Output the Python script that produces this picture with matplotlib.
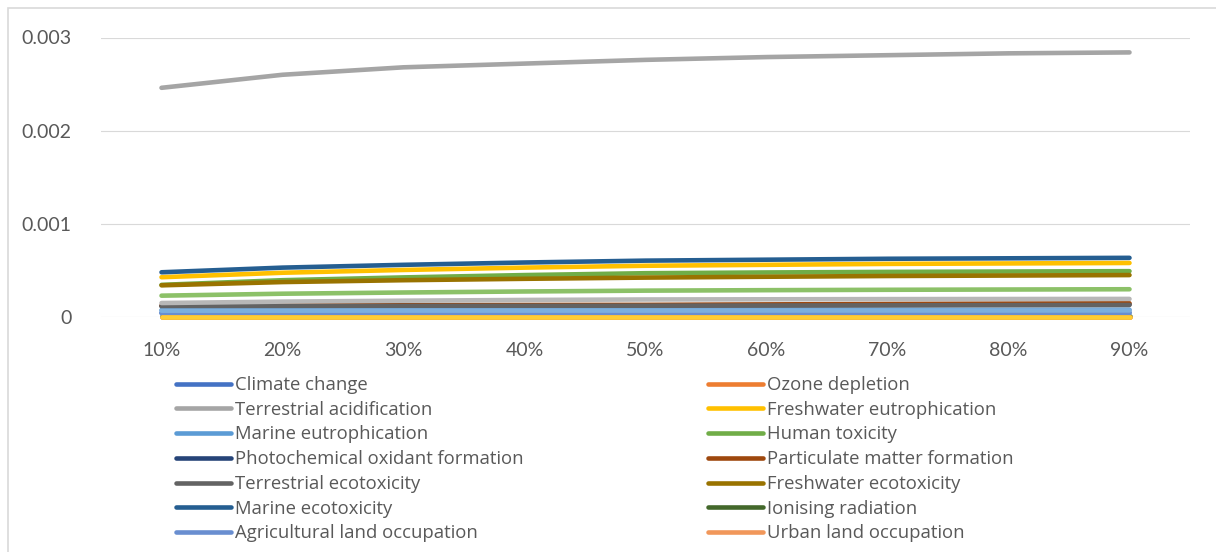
import matplotlib
matplotlib.use("Agg")
import matplotlib.pyplot as plt
from matplotlib.lines import Line2D
from matplotlib.patches import Rectangle

plt.rcParams.update({"font.family": ["Lato", "DejaVu Sans"]})

W, H = 1216, 552
TXT = "#595959"
GRID = "#D9D9D9"

shares = ["10%", "20%", "30%", "40%", "50%", "60%", "70%", "80%", "90%"]

names = [
    "Climate change", "Ozone depletion", "Terrestrial acidification",
    "Freshwater eutrophication", "Marine eutrophication", "Human toxicity",
    "Photochemical oxidant formation", "Particulate matter formation",
    "Terrestrial ecotoxicity", "Freshwater ecotoxicity", "Marine ecotoxicity",
    "Ionising radiation", "Agricultural land occupation", "Urban land occupation",
    "Natural land transformation", "Water depletion", "Metal depletion",
    "Fossil depletion",
]
colors = [
    "#4472C4", "#ED7D31", "#A5A5A5", "#FFC000", "#5B9BD5", "#70AD47",
    "#264478", "#9E480E", "#636363", "#997300", "#255E91", "#43682B",
    "#698ED0", "#F1975A", "#B7B7B7", "#FFCD33", "#7CAFDD", "#8CC168",
]

# values (x 1e-4)
climate = [0.45, 0.45, 0.46, 0.46, 0.46, 0.47, 0.47, 0.47, 0.48]
ozone = [0.0] * 9
terr_acid = [24.6, 26.0, 26.8, 27.2, 27.6, 27.9, 28.1, 28.3, 28.4]
fw_eutro = [4.27, 4.75, 5.05, 5.30, 5.50, 5.60, 5.70, 5.75, 5.80]
mar_eutro = [0.75, 0.75, 0.76, 0.76, 0.76, 0.77, 0.77, 0.77, 0.78]
human_tox = [3.45, 3.95, 4.25, 4.50, 4.70, 4.78, 4.84, 4.88, 4.92]
photochem = [1.18, 1.20, 1.22, 1.24, 1.25, 1.27, 1.30, 1.33, 1.36]
particulate = [1.22, 1.26, 1.28, 1.29, 1.30, 1.35, 1.40, 1.44, 1.47]
terr_ecotox = [1.15, 1.17, 1.19, 1.20, 1.21, 1.23, 1.25, 1.27, 1.29]
fw_ecotox = [3.40, 3.75, 3.95, 4.10, 4.23, 4.32, 4.40, 4.45, 4.50]
mar_ecotox = [4.80, 5.30, 5.60, 5.85, 6.05, 6.15, 6.25, 6.30, 6.35]
ionising = [0.10] * 9
agri_land = [0.40, 0.40, 0.41, 0.41, 0.41, 0.42, 0.42, 0.42, 0.43]
urban_land = [0.03] * 9
natural_land = [1.50, 1.65, 1.75, 1.83, 1.88, 1.90, 1.92, 1.93, 1.94]
water = [0.0] * 9
metal = [0.68, 0.68, 0.69, 0.69, 0.69, 0.70, 0.70, 0.70, 0.71]
fossil = [2.29, 2.50, 2.63, 2.74, 2.83, 2.88, 2.92, 2.95, 2.98]

series = [climate, ozone, terr_acid, fw_eutro, mar_eutro, human_tox, photochem,
          particulate, terr_ecotox, fw_ecotox, mar_ecotox, ionising, agri_land,
          urban_land, natural_land, water, metal, fossil]

fig = plt.figure(figsize=(W / 100, H / 100), dpi=100)
ax = fig.add_axes([101 / W, 1 - 317 / H, 1089 / W, (317 - 37.5) / H])

x = list(range(len(shares)))
for name, col, vals in zip(names, colors, series):
    ax.plot(x, [v * 1e-4 for v in vals], color=col, lw=3.3,
            solid_capstyle="round", solid_joinstyle="round",
            clip_on=False, zorder=3, label=name)

ax.set_xlim(-0.5, 8.5)
ax.set_ylim(0, 0.003)
ax.set_yticks([0, 0.001, 0.002, 0.003])
ax.set_yticklabels(["0", "0.001", "0.002", "0.003"])
ax.set_xticks(x)
ax.set_xticklabels(shares)
ax.tick_params(length=0, labelsize=14, colors=TXT)
ax.tick_params(axis="y", pad=21)
ax.tick_params(axis="x", pad=18)
ax.grid(axis="y", color=GRID, lw=0.8, zorder=0)
for s in ax.spines.values():
    s.set_visible(False)

# chart-area border
fig.patches.append(Rectangle((8 / W, -0.1), 1.2, 1 - 8 / H + 0.1, transform=fig.transFigure,
                             fill=False, edgecolor=GRID, lw=1.2))

# legend: only the first 14 series, two columns filled row-wise
leg_kw = dict(frameon=False, handlelength=3.0, handletextpad=0.22,
              labelspacing=0.365, borderpad=0, borderaxespad=0, labelcolor=TXT,
              loc="upper left", prop={"family": "Open Sans", "size": 13.3})
left = [Line2D([], [], color=colors[i], lw=3.3, solid_capstyle="round") for i in range(0, 14, 2)]
right = [Line2D([], [], color=colors[i], lw=3.3, solid_capstyle="round") for i in range(1, 14, 2)]
fig.legend(left, [names[i] for i in range(0, 14, 2)],
           bbox_to_anchor=(176 / W, 1 - 376 / H), **leg_kw)
fig.legend(right, [names[i] for i in range(1, 14, 2)],
           bbox_to_anchor=(708 / W, 1 - 376 / H), **leg_kw)

fig.savefig("out.png", dpi=100)
